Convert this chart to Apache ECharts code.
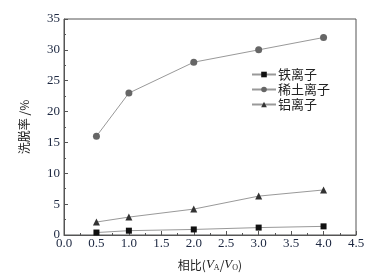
<!DOCTYPE html>
<html><head><meta charset="utf-8">
<script src="https://cdn.jsdelivr.net/npm/echarts@6/dist/echarts.min.js"></script>
<style>html,body{margin:0;padding:0;background:#fff}#c{width:372px;height:275px}</style>
</head><body><div id="c"></div>
<script>
const ratios = [0.5, 1.0, 2.0, 3.0, 4.0];
const ironVals = [0.4, 0.7, 0.9, 1.2, 1.4];
const rareEarthVals = [16, 23, 28, 30, 32];
const aluminumVals = [2.1, 2.9, 4.2, 6.3, 7.3];
const seriesNames = ['铁离子', '稀土离子', '铝离子'];
const yName = '洗脱率 /%';

const serif = '"Liberation Serif","Noto Sans CJK SC",serif';
const cjk = '"Noto Sans CJK SC","Liberation Serif",serif';
const pair = vals => ratios.map((x, i) => [x, vals[i]]);

const chart = echarts.init(document.getElementById('c'), null, {renderer: 'canvas'});
const lineStyle = {color: '#999', width: 1};
chart.setOption({
  animation: false,
  backgroundColor: '#fff',
  grid: {left: 64, right: 16, top: 19, bottom: 40, outerBoundsMode: 'none', containLabel: false,
         show: true, borderColor: '#555', borderWidth: 1, backgroundColor: 'transparent'},
  xAxis: {
    type: 'value', min: 0, max: 4.5, interval: 0.5,
    axisLine: {lineStyle: {color: '#555'}},
    axisTick: {inside: true, length: 4, lineStyle: {color: '#555'}},
    minorTick: {show: true, splitNumber: 2, length: 2, lineStyle: {color: '#555'}},
    splitLine: {show: false},
    axisLabel: {fontFamily: serif, fontSize: 13, color: '#1c2740', margin: 2, formatter: v => v.toFixed(1)},
    name: '相比({i|V}{s|A}/{i|V}{s|O})',
    nameLocation: 'middle', nameGap: 23,
    nameTextStyle: {fontFamily: cjk, fontSize: 12, color: '#222',
      rich: {i: {fontFamily: serif, fontStyle: 'italic', fontSize: 13, color: '#222'},
             s: {fontFamily: serif, fontSize: 8, color: '#222', padding: [6, 0, 0, 0]}}}
  },
  yAxis: {
    type: 'value', min: 0, max: 35, interval: 5,
    axisLine: {show: true, lineStyle: {color: '#555'}},
    axisTick: {inside: true, length: 4, lineStyle: {color: '#555'}},
    minorTick: {show: true, splitNumber: 2, length: 2, lineStyle: {color: '#555'}},
    splitLine: {show: false},
    axisLabel: {fontFamily: serif, fontSize: 13, color: '#1c2740', margin: 4},
    name: yName, nameLocation: 'middle', nameGap: 34, nameRotate: 90,
    nameTextStyle: {fontFamily: cjk, fontSize: 12, color: '#222'}
  },
  legend: {
    orient: 'vertical', left: 246, top: 63, itemGap: 2, itemWidth: 24, itemHeight: 7,
    textStyle: {fontFamily: cjk, fontSize: 13, color: '#222', padding: [0, 0, 0, -3]},
    data: seriesNames
  },
  series: [
    {name: seriesNames[0], type: 'line', data: pair(ironVals), symbol: 'rect', symbolSize: 6,
     itemStyle: {color: '#111'}, lineStyle},
    {name: seriesNames[1], type: 'line', data: pair(rareEarthVals), symbol: 'circle', symbolSize: 7,
     itemStyle: {color: '#666'}, lineStyle},
    {name: seriesNames[2], type: 'line', data: pair(aluminumVals), symbol: 'triangle', symbolSize: 7,
     itemStyle: {color: '#333'}, lineStyle}
  ]
});
</script></body></html>
